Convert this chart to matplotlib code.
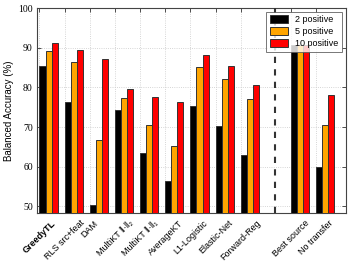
import matplotlib
matplotlib.use("Agg")
import matplotlib.pyplot as plt
import numpy as np

methods = ["GreedyTL", "RLS src+feat", "DAM", "MultiKT \u2016\u00b7\u2016\u2082",
           "MultiKT \u2016\u00b7\u2016\u2081", "AverageKT", "L1-Logistic",
           "Elastic-Net", "Forward-Reg", "Best source", "No transfer"]
series_names = ["2 positive", "5 positive", "10 positive"]
pos2 = [85.5, 76.4, 50.25, 74.3, 63.4, 56.4, 75.3, 70.2, 63.0, 90.8, 60.0]
pos5 = [89.3, 86.4, 66.7, 77.2, 70.4, 65.2, 85.2, 82.0, 77.0, 90.7, 70.6]
pos10 = [91.1, 89.5, 87.1, 79.5, 77.6, 76.3, 88.2, 85.4, 80.6, 90.6, 78.0]
colors = ["#000000", "#FFA500", "#FF0000"]
yticks = [50, 60, 70, 80, 90, 100]

fig = plt.figure(figsize=(3.52, 2.62), dpi=100)
ax = fig.add_axes([0.105, 0.187, 0.877, 0.782])

x = np.array([0, 1, 2, 3, 4, 5, 6, 7, 8, 10, 11], dtype=float)
w = 0.24
for k, (vals, c, name) in enumerate(zip([pos2, pos5, pos10], colors, series_names)):
    ax.bar(x + k * w, vals, width=w, align="edge", color=c, edgecolor="#333333",
           linewidth=0.7, label=name, zorder=3)

ax.axvline(9 + 1.5 * w, color="#333333", linestyle=(0, (3, 3)), linewidth=1.5, zorder=4)

ax.set_xlim(-0.1, 12.17)
ax.set_ylim(48.3, 100)
ax.set_yticks(yticks)
ax.set_yticklabels([str(t) for t in yticks], family="Liberation Serif", fontsize=7)
ax.set_xticks(x)
ax.set_xticklabels(methods, rotation=45, family=["Liberation Sans", "DejaVu Sans"],
                   fontsize=6.5)
ax.get_xticklabels()[0].set_fontweight("bold")
ax.tick_params(direction="in", top=True, right=True, length=3, width=0.6,
               color="#333333", pad=3)
ax.tick_params(axis="x", pad=4)
ax.grid(True, linestyle=":", color="#c8c8c8", linewidth=0.6, zorder=0)
ax.set_axisbelow(True)
for s in ax.spines.values():
    s.set_color("#444444")
    s.set_linewidth(0.8)

ax.set_ylabel("Balanced Accuracy (%)", family="Liberation Sans", fontsize=7, labelpad=3)

leg = ax.legend(loc="upper right", prop={"family": "Liberation Sans", "size": 6.5},
                fancybox=False, edgecolor="#555555", handlelength=2.0, handleheight=1.0,
                borderaxespad=0.4, labelspacing=0.3)
leg.get_frame().set_linewidth(0.7)
leg.set_zorder(5)

fig.savefig("out.png", dpi=100)
